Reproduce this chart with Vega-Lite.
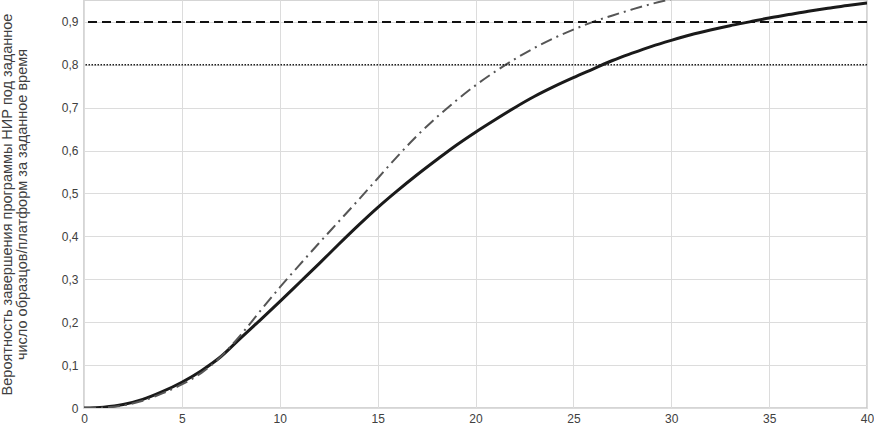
{
  "$schema": "https://vega.github.io/schema/vega-lite/v6.json",
  "width": 783,
  "height": 408,
  "autosize": "none",
  "padding": {"left": 84, "top": 0, "right": 7, "bottom": 22},
  "background": "white",
  "config": {
    "view": {"stroke": "#c8c8c8", "strokeWidth": 1.5},
    "font": "Liberation Sans",
    "axis": {"labelFont": "Liberation Sans", "titleFont": "Liberation Sans", "labelColor": "#404040", "titleColor": "#404040", "gridColor": "#dcdcdc", "gridWidth": 1, "domain": false, "ticks": false, "labelFontSize": 12}
  },
  "datasets": {
    "curves": [
      {"x": 0, "y": 0, "s": "A"}, {"x": 1, "y": 0.002, "s": "A"}, {"x": 2, "y": 0.008, "s": "A"}, {"x": 3, "y": 0.02, "s": "A"}, {"x": 4, "y": 0.038, "s": "A"}, {"x": 5, "y": 0.06, "s": "A"}, {"x": 6, "y": 0.087, "s": "A"}, {"x": 7, "y": 0.12, "s": "A"}, {"x": 8, "y": 0.163, "s": "A"}, {"x": 9, "y": 0.205, "s": "A"}, {"x": 10, "y": 0.248, "s": "A"}, {"x": 11, "y": 0.292, "s": "A"}, {"x": 12, "y": 0.336, "s": "A"}, {"x": 13, "y": 0.381, "s": "A"}, {"x": 14, "y": 0.425, "s": "A"}, {"x": 15, "y": 0.467, "s": "A"}, {"x": 16, "y": 0.506, "s": "A"}, {"x": 17, "y": 0.543, "s": "A"}, {"x": 18, "y": 0.578, "s": "A"}, {"x": 19, "y": 0.612, "s": "A"}, {"x": 20, "y": 0.643, "s": "A"}, {"x": 21, "y": 0.672, "s": "A"}, {"x": 22, "y": 0.7, "s": "A"}, {"x": 23, "y": 0.726, "s": "A"}, {"x": 24, "y": 0.749, "s": "A"}, {"x": 25, "y": 0.77, "s": "A"}, {"x": 26, "y": 0.79, "s": "A"}, {"x": 27, "y": 0.81, "s": "A"}, {"x": 28, "y": 0.827, "s": "A"}, {"x": 29, "y": 0.843, "s": "A"}, {"x": 30, "y": 0.857, "s": "A"}, {"x": 31, "y": 0.87, "s": "A"}, {"x": 32, "y": 0.881, "s": "A"}, {"x": 33, "y": 0.891, "s": "A"}, {"x": 34, "y": 0.9, "s": "A"}, {"x": 35, "y": 0.909, "s": "A"}, {"x": 36, "y": 0.917, "s": "A"}, {"x": 37, "y": 0.925, "s": "A"}, {"x": 38, "y": 0.932, "s": "A"}, {"x": 39, "y": 0.938, "s": "A"}, {"x": 40, "y": 0.944, "s": "A"},
      {"x": 0, "y": 0, "s": "B"}, {"x": 1, "y": 0.001, "s": "B"}, {"x": 2, "y": 0.006, "s": "B"}, {"x": 3, "y": 0.017, "s": "B"}, {"x": 4, "y": 0.034, "s": "B"}, {"x": 5, "y": 0.055, "s": "B"}, {"x": 6, "y": 0.082, "s": "B"}, {"x": 7, "y": 0.12, "s": "B"}, {"x": 8, "y": 0.17, "s": "B"}, {"x": 9, "y": 0.226, "s": "B"}, {"x": 10, "y": 0.281, "s": "B"}, {"x": 11, "y": 0.333, "s": "B"}, {"x": 12, "y": 0.384, "s": "B"}, {"x": 13, "y": 0.434, "s": "B"}, {"x": 14, "y": 0.484, "s": "B"}, {"x": 15, "y": 0.535, "s": "B"}, {"x": 16, "y": 0.586, "s": "B"}, {"x": 17, "y": 0.634, "s": "B"}, {"x": 18, "y": 0.677, "s": "B"}, {"x": 19, "y": 0.716, "s": "B"}, {"x": 20, "y": 0.752, "s": "B"}, {"x": 21, "y": 0.784, "s": "B"}, {"x": 22, "y": 0.813, "s": "B"}, {"x": 23, "y": 0.839, "s": "B"}, {"x": 24, "y": 0.862, "s": "B"}, {"x": 25, "y": 0.882, "s": "B"}, {"x": 26, "y": 0.9, "s": "B"}, {"x": 27, "y": 0.915, "s": "B"}, {"x": 28, "y": 0.929, "s": "B"}, {"x": 29, "y": 0.942, "s": "B"}, {"x": 30, "y": 0.953, "s": "B"}, {"x": 31, "y": 0.963, "s": "B"}
    ],
    "levels": [{"y": 0.9, "k": "dash"}, {"y": 0.8, "k": "dot"}]
  },
  "layer": [
    {
      "data": {"name": "curves"},
      "transform": [{"filter": "datum.s === 'A'"}],
      "mark": {"type": "line", "color": "#1a1a1a", "strokeWidth": 3, "interpolate": "monotone", "clip": true},
      "encoding": {
        "x": {"field": "x", "type": "quantitative", "scale": {"domain": [0, 40], "nice": false},
          "axis": {"values": [0, 5, 10, 15, 20, 25, 30, 35, 40], "title": null, "labelPadding": 5, "labelFlush": false}},
        "y": {"field": "y", "type": "quantitative", "scale": {"domain": [0, 0.951], "nice": false},
          "axis": {"values": [0, 0.1, 0.2, 0.3, 0.4, 0.5, 0.6, 0.7, 0.8, 0.9], "labelExpr": "replace(format(datum.value, '.1~f'), '.', ',')", "labelPadding": 6,
            "title": ["Вероятность завершения программы НИР под заданное", "число образцов/платформ за заданное время"],
            "titleFontSize": 14.5, "titleFontWeight": "normal", "titleLineHeight": 15, "titleAngle": -90, "titleX": -84, "titleY": 204, "titleBaseline": "top", "titleAlign": "center"}}
      }
    },
    {
      "data": {"name": "curves"},
      "transform": [{"filter": "datum.s === 'B'"}],
      "mark": {"type": "line", "color": "#555555", "strokeWidth": 2, "strokeDash": [12, 5, 2, 5], "interpolate": "monotone", "clip": true},
      "encoding": {
        "x": {"field": "x", "type": "quantitative"},
        "y": {"field": "y", "type": "quantitative"}
      }
    },
    {
      "data": {"name": "levels"},
      "transform": [{"filter": "datum.k === 'dash'"}],
      "mark": {"type": "rule", "color": "#111111", "strokeWidth": 2, "strokeDash": [9, 5]},
      "encoding": {"y": {"field": "y", "type": "quantitative"}}
    },
    {
      "data": {"name": "levels"},
      "transform": [{"filter": "datum.k === 'dot'"}],
      "mark": {"type": "rule", "color": "#222222", "strokeWidth": 1.5, "strokeDash": [1.5, 1.5]},
      "encoding": {"y": {"field": "y", "type": "quantitative"}}
    }
  ]
}
